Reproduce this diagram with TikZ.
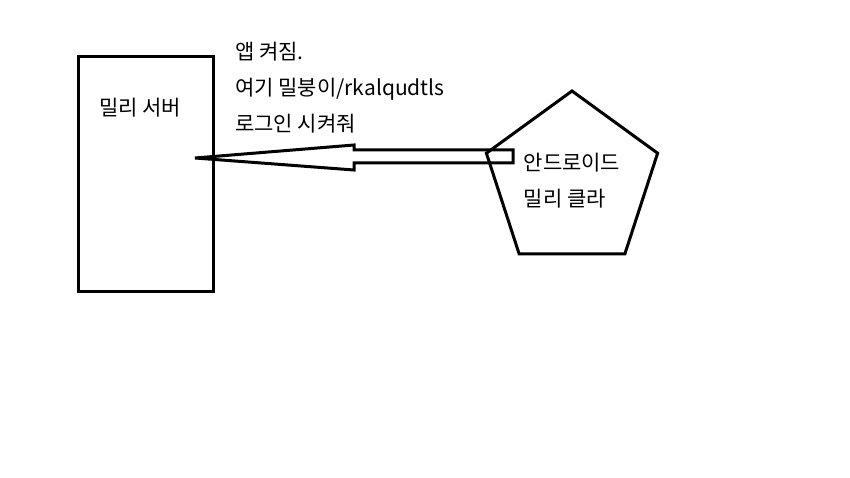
\documentclass[tikz,border=0pt]{standalone}
\usepackage{fontspec}
\setmainfont{Noto Sans CJK KR}
\usetikzlibrary{shapes.geometric,calc}

\begin{document}
\begin{tikzpicture}[x=1pt,y=-1pt, every node/.style={font=\fontsize{21}{36}\selectfont},
 box/.style={draw,line width=3pt,inner sep=0pt},
 penta/.style={draw,line width=3pt,regular polygon,regular polygon sides=5,minimum size=180pt,inner sep=0pt,align=left},
 blockarr/.style={draw,line width=3pt,line join=miter}]
\useasboundingbox (0,0) rectangle (850,478);
\node[box,minimum width=135pt,minimum height=234pt] (server) at (145.5,174) {};
\node (servername) at (140,108) {밀리 서버};
\node[penta] (client) at (572,181) {안드로이드\\밀리 클라};
\node[anchor=north west,inner sep=0pt,align=left] (msg) at (235,42) {앱 켜짐.\\여기 밀붕이/rkalqudtls\\로그인 시켜줘};
\coordinate (tip) at (195,158);
\coordinate (tail) at (513,156.5);
\draw[blockarr] (tip) -- ++(159,-13) -- ++(0,5) -- ($(tail)+(0,-6.5)$) -- ($(tail)+(0,6.5)$)
 -- ($(tip)+(159,5)$) -- ++(0,7) -- cycle;
\end{tikzpicture}
\end{document}
